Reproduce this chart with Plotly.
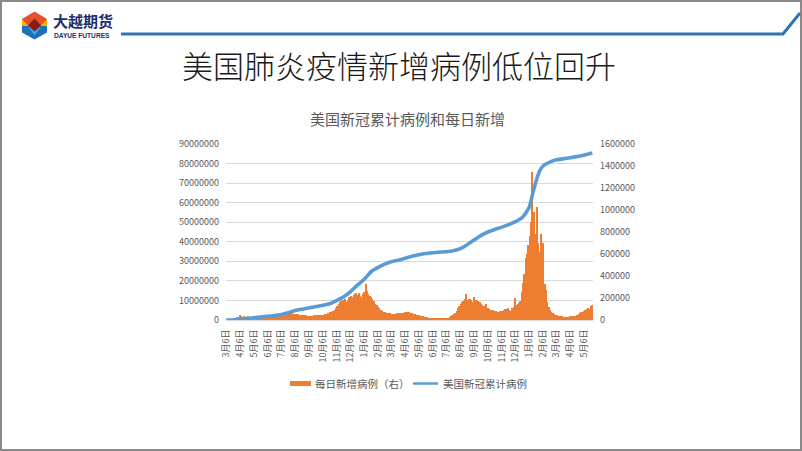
import plotly.graph_objects as go
import pandas as pd

# ---------------- data ----------------
bar_start = "2020-03-06"          # first 3-day bin
bar_step_days = 3
# daily new US cases (thousands), one value per 3-day bin, rows of ~30 days
daily_new_k = [
    0, 0.1, 0.3, 0.8, 2, 5, 10, 17, 24, 29,              # 2020-03-06
    44, 36, 31, 34, 30, 28, 34, 29, 27, 28,              # 2020-04-05
    26, 24, 25, 23, 22, 21, 23, 20, 19, 21,              # 2020-05-05
    20, 21, 19, 22, 25, 29, 34, 41, 47, 53,              # 2020-06-04
    56, 62, 66, 70, 73, 76, 72, 70, 67, 63,              # 2020-07-04
    58, 54, 55, 51, 48, 46, 44, 42, 43, 41,              # 2020-08-03
    40, 37, 35, 34, 38, 41, 42, 44, 45, 43,              # 2020-09-02
    46, 48, 50, 54, 57, 60, 65, 70, 77, 85,              # 2020-10-02
    95, 110, 125, 145, 160, 175, 185, 180, 190, 168,     # 2020-11-01
    180, 205, 215, 210, 228, 238, 242, 230, 248, 215,    # 2020-12-01
    205, 235, 258, 330, 262, 240, 218, 205, 190, 170,    # 2020-12-31
    150, 135, 120, 106, 95, 86, 76, 70, 68, 65,          # 2021-01-30
    62, 60, 58, 57, 56, 58, 60, 62, 63, 65,              # 2021-03-01
    66, 68, 71, 73, 74, 70, 67, 63, 58, 54,              # 2021-03-31
    50, 46, 42, 38, 35, 32, 30, 27, 24, 21,              # 2021-04-30
    18, 16, 15, 14, 14, 13, 12, 12, 11, 12,              # 2021-05-30
    12, 13, 15, 18, 22, 28, 36, 46, 56, 68,              # 2021-06-29
    85, 105, 128, 150, 165, 175, 190, 235, 185, 190,     # 2021-07-29
    195, 180, 165, 205, 185, 175, 170, 160, 150, 140,    # 2021-08-28
    125, 118, 150, 105, 100, 95, 90, 88, 82, 78,         # 2021-09-27
    76, 75, 78, 80, 85, 90, 96, 102, 108, 92,            # 2021-10-27
    80, 110, 122, 198, 132, 142, 152, 175, 255, 335,     # 2021-11-26
    420, 560, 600, 680, 760, 890, 1345, 980, 780, 1030,  # 2021-12-26
    700, 620, 780, 560, 700, 330, 270, 160, 120, 90,     # 2022-01-25
    75, 65, 55, 48, 42, 38, 35, 33, 32, 30,              # 2022-02-24
    30, 29, 28, 30, 32, 34, 36, 38, 40, 43,              # 2022-03-26
    55, 65, 70, 76, 85, 90, 96, 110, 100, 125,           # 2022-04-25
    138,                                                 # 2022-05-25
]

# cumulative US cases (millions)
cum_dates = [
    "2020-03-06", "2020-03-21", "2020-04-06", "2020-04-21", "2020-05-06", "2020-05-21",
    "2020-06-06", "2020-06-21", "2020-07-06", "2020-07-21", "2020-08-06", "2020-08-21",
    "2020-09-06", "2020-09-21", "2020-10-06", "2020-10-21", "2020-11-06", "2020-11-21",
    "2020-12-06", "2020-12-21", "2021-01-06", "2021-01-21", "2021-02-06", "2021-02-21",
    "2021-03-06", "2021-03-21", "2021-04-06", "2021-04-21", "2021-05-06", "2021-05-21",
    "2021-06-06", "2021-06-21", "2021-07-06", "2021-07-21", "2021-08-06", "2021-08-21",
    "2021-09-06", "2021-09-21", "2021-10-06", "2021-10-21", "2021-11-06", "2021-11-21",
    "2021-12-06", "2021-12-21", "2021-12-28", "2022-01-06", "2022-01-13", "2022-01-21",
    "2022-01-28", "2022-02-06", "2022-02-21", "2022-03-06", "2022-03-21", "2022-04-06",
    "2022-04-21", "2022-05-06", "2022-05-25",
]
cum_m = [
    0.0, 0.01, 0.25, 0.72, 1.15, 1.55,
    1.9, 2.25, 2.8, 3.75, 4.85, 5.55,
    6.25, 6.85, 7.5, 8.3, 10.0, 11.9,
    14.5, 17.8, 21.0, 24.8, 27.0, 28.7,
    29.8, 30.6, 31.6, 32.6, 33.4, 34.0,
    34.4, 34.7, 34.9, 35.4, 36.5, 38.5,
    41.0, 43.3, 45.0, 46.3, 47.5, 48.8,
    50.3, 52.4, 54.5, 58.0, 64.5, 71.3,
    76.0, 79.0, 80.9, 81.9, 82.4, 83.0,
    83.6, 84.3, 85.4,
]

tick_dates = [
    "2020-03-06", "2020-04-06", "2020-05-06", "2020-06-06", "2020-07-06", "2020-08-06",
    "2020-09-06", "2020-10-06", "2020-11-06", "2020-12-06", "2021-01-06", "2021-02-06",
    "2021-03-06", "2021-04-06", "2021-05-06", "2021-06-06", "2021-07-06", "2021-08-06",
    "2021-09-06", "2021-10-06", "2021-11-06", "2021-12-06", "2022-01-06", "2022-02-06",
    "2022-03-06", "2022-04-06", "2022-05-06",
]
tick_labels = [
    "3月6日", "4月6日", "5月6日", "6月6日", "7月6日", "8月6日",
    "9月6日", "10月6日", "11月6日", "12月6日", "1月6日", "2月6日",
    "3月6日", "4月6日", "5月6日", "6月6日", "7月6日", "8月6日",
    "9月6日", "10月6日", "11月6日", "12月6日", "1月6日", "2月6日",
    "3月6日", "4月6日", "5月6日",
]

series_bar_name = "每日新增病例（右）"
series_line_name = "美国新冠累计病例"
main_title = "美国肺炎疫情新增病例低位回升"
chart_title = "美国新冠累计病例和每日新增"

# ---------------- helpers ----------------
W, H = 802, 451
PL, PR, PT, PB = 226, 593, 144, 320   # plot area in pixels


def px(x):
    return (x - PL) / (PR - PL)


def py(y):
    return (PB - y) / (PB - PT)


def path(points):
    s = "M " + " L ".join(f"{px(x):.5f},{py(y):.5f}" for x, y in points) + " Z"
    return s


bar_dates = pd.date_range(bar_start, periods=len(daily_new_k), freq=f"{bar_step_days}D")
bar_vals = [v * 1000 for v in daily_new_k]
cum_vals = [v * 1_000_000 for v in cum_m]

CJK = "Noto Sans CJK SC"
GREY = "#595959"

fig = go.Figure()
fig.add_trace(go.Bar(
    x=bar_dates, y=bar_vals, name=series_bar_name, yaxis="y",
    marker=dict(color="#ED7D31", line=dict(width=0)),
    width=bar_step_days * 86400000, showlegend=False,
))
fig.add_trace(go.Scatter(
    x=cum_dates, y=cum_vals, name=series_line_name, yaxis="y2", mode="lines",
    line=dict(color="#5B9BD5", width=3.6, shape="spline", smoothing=0.6),
    showlegend=False,
))

shapes = []
# slide frame
shapes.append(dict(type="rect", xref="paper", yref="paper",
                   x0=px(1), x1=px(801), y0=py(450), y1=py(1),
                   line=dict(color="#8a8a8a", width=2), fillcolor="rgba(0,0,0,0)", layer="above"))
# header blue rule
shapes.append(dict(type="path", xref="paper", yref="paper",
                   path=f"M {px(121):.5f},{py(34):.5f} L {px(783):.5f},{py(34):.5f} L {px(800):.5f},{py(13):.5f}",
                   line=dict(color="#2E75B6", width=3)))
# logo
logo_parts = [
    ([(22, 19), (34.5, 11.5), (47, 19), (47, 26), (22, 26)], "#E8502A"),
    ([(22, 19), (28.5, 26), (22, 26)], "#F5B400"),
    ([(47, 19), (40.5, 26), (47, 26)], "#F5B400"),
    ([(22, 26), (47, 26), (47, 32.5), (34.5, 39.5), (22, 32.5)], "#1F6FB8"),
    ([(28.5, 27), (40.5, 27), (34.5, 35.5)], "#3FA9E0"),
    ([(34.5, 18.5), (41, 25.5), (34.5, 31.5), (28, 25.5)], "#8B1A1A"),
]
for pts, col in logo_parts:
    shapes.append(dict(type="path", xref="paper", yref="paper", path=path(pts),
                       fillcolor=col, line=dict(width=0)))
# legend swatches
shapes.append(dict(type="rect", xref="paper", yref="paper",
                   x0=px(290), x1=px(311), y0=py(386), y1=py(381),
                   fillcolor="#ED7D31", line=dict(width=0)))
shapes.append(dict(type="line", xref="paper", yref="paper",
                   x0=px(413), x1=px(438), y0=py(383.5), y1=py(383.5),
                   line=dict(color="#5B9BD5", width=2.5)))

annotations = [
    dict(text=main_title, x=px(399), y=py(65), xref="paper", yref="paper",
         showarrow=False, xanchor="center", yanchor="middle",
         font=dict(family=CJK, size=31, color="#1a1a1a", weight=300)),
    dict(text=chart_title, x=px(407), y=py(118), xref="paper", yref="paper",
         showarrow=False, xanchor="center", yanchor="middle",
         font=dict(family=CJK, size=15, color=GREY)),
    dict(text="大越期货", x=px(52), y=py(20.5), xref="paper", yref="paper",
         showarrow=False, xanchor="left", yanchor="middle", borderpad=0,
         font=dict(family=CJK, size=15, color="#1D2F6E", weight="bold")),
    dict(text="DAYUE FUTURES", x=px(52.5), y=py(35.5), xref="paper", yref="paper",
         showarrow=False, xanchor="left", yanchor="middle", borderpad=0,
         font=dict(family="Liberation Sans", size=6.6, color="#1D2F6E", weight="bold")),
    dict(text=series_bar_name, x=px(313), y=py(383.5), xref="paper", yref="paper",
         showarrow=False, xanchor="left", yanchor="middle",
         font=dict(family=CJK, size=10.5, color=GREY)),
    dict(text=series_line_name, x=px(441), y=py(383.5), xref="paper", yref="paper",
         showarrow=False, xanchor="left", yanchor="middle",
         font=dict(family=CJK, size=10.5, color=GREY)),
]

fig.update_layout(
    width=W, height=H,
    margin=dict(l=PL, r=W - PR, t=PT, b=H - PB, pad=0),
    paper_bgcolor="white", plot_bgcolor="white",
    bargap=0, showlegend=False,
    xaxis=dict(
        type="date", range=["2020-03-05 12:00", "2022-05-26 12:00"],
        tickmode="array", tickvals=tick_dates, ticktext=tick_labels,
        tickangle=-90, tickfont=dict(family=CJK, size=9, color=GREY),
        showgrid=False, showline=True, linecolor="#D9D9D9", linewidth=1,
        ticks="", ticklabelstandoff=5, zeroline=False,
    ),
    yaxis=dict(
        side="right", range=[0, 1600000], dtick=200000, tick0=0, tickformat="d",
        showgrid=False, zeroline=False, ticks="",
        tickfont=dict(family=CJK, size=9, color=GREY), ticklabelstandoff=6,
    ),
    yaxis2=dict(
        side="left", overlaying="y", range=[0, 90000000], dtick=10000000, tick0=0,
        tickformat="d", showgrid=True, gridcolor="#D9D9D9", gridwidth=1,
        zeroline=False, ticks="",
        tickfont=dict(family=CJK, size=9, color=GREY), ticklabelstandoff=6,
    ),
    shapes=shapes,
    annotations=annotations,
)

fig.write_html(
    "out.html",
    config={"displayModeBar": False},
    post_script="document.body.style.margin='0';document.body.style.padding='0';",
)
